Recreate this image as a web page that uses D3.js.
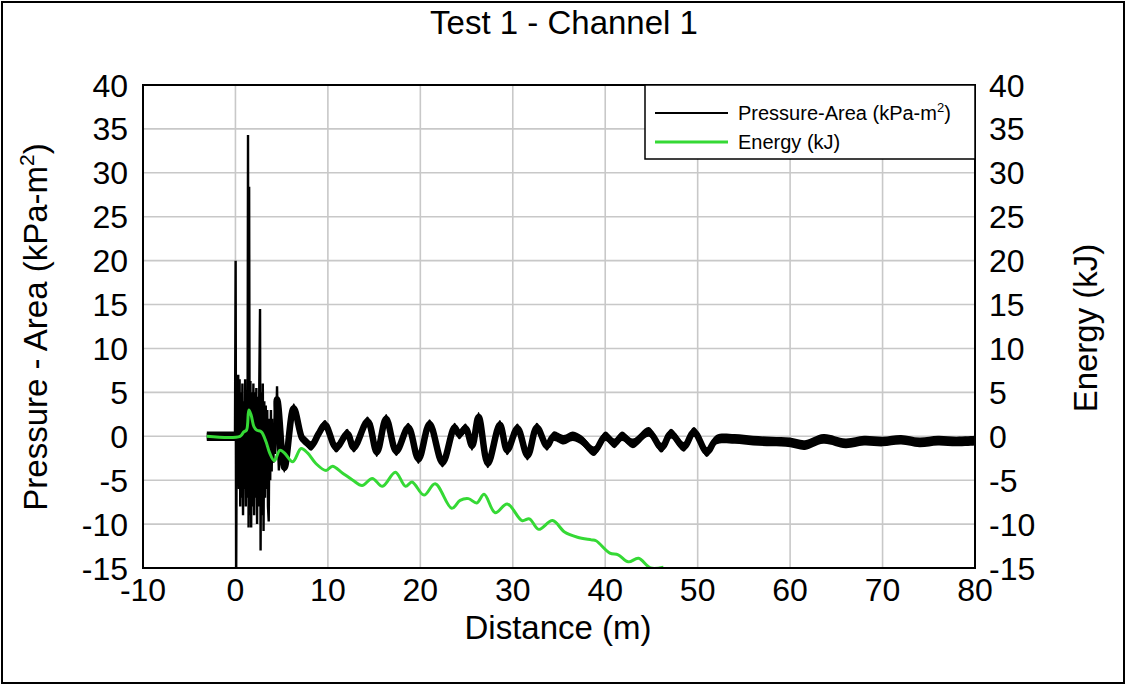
<!DOCTYPE html>
<html>
<head>
<meta charset="utf-8">
<script src="https://cdn.jsdelivr.net/npm/d3@7"></script>
<style>
  body { margin: 0; background: #fff; }
  svg text { font-family: "Liberation Sans", Arial, sans-serif; fill: #000; }
</style>
</head>
<body>
<svg id="chart" width="1126" height="685"></svg>
<script>
// x ticks / y ticks
var xTicks = [-10, 0, 10, 20, 30, 40, 50, 60, 70, 80];
var yTicks = [-15, -10, -5, 0, 5, 10, 15, 20, 25, 30, 35, 40];

// pressure-area, slow part (centre of the noisy band)
var bandDist = [-3.1, 0.0, 4.0, 4.5, 5.3, 6.3, 7.2, 7.6, 8.2, 9.0, 9.7, 10.9, 12.1, 12.8, 14.3, 15.3, 16.3, 17.4,
  18.7, 19.8, 21.0, 22.4, 23.7, 24.2, 24.9, 25.6, 26.3, 27.3, 28.6, 29.4, 30.5, 31.6, 32.6, 33.7, 34.4, 35.5,
  36.5, 37.5, 38.8, 40.0, 41.0, 41.8, 43.0, 44.7, 46.1, 47.1, 48.5, 49.6, 51.0, 52.0, 54.0, 56.0, 58.0, 60.0,
  61.6, 63.6, 66.0, 68.0, 70.0, 72.0, 74.0, 76.0, 78.0, 80.0];
var bandVal = [0.0, 0.0, 0.0, 4.2, -3.6, 3.2, -0.2, -0.6, -1.1, 0.3, 1.3, -1.3, 0.3, -1.3, 1.7, -1.8, 2.0, -1.7,
  1.0, -2.6, 1.4, -3.0, 1.0, 0.2, 0.9, -1.1, 2.2, -3.1, 1.3, -1.6, 0.9, -2.2, 1.0, -1.1, 0.0, -0.4,
  0.0, -0.5, -1.7, 0.0, -0.8, 0.0, -0.8, 0.5, -1.3, 0.3, -1.2, 0.5, -1.8, -0.4, -0.3, -0.5, -0.6, -0.7,
  -1.0, -0.3, -0.8, -0.5, -0.6, -0.4, -0.7, -0.5, -0.6, -0.5];

// pressure-area, impact spikes
var spikeDist = [-0.05, 0.02, 0.08, 0.15, 0.22, 0.30, 0.38, 0.45, 0.52, 0.60, 0.68, 0.75, 0.82, 0.90, 0.98, 1.05,
  1.12, 1.20, 1.30, 1.36, 1.42, 1.48, 1.55, 1.62, 1.70, 1.78, 1.86, 1.94, 2.02, 2.10, 2.18, 2.26, 2.34, 2.42,
  2.50, 2.58, 2.66, 2.72, 2.80, 2.88, 2.96, 3.04, 3.12, 3.20, 3.28, 3.36, 3.44, 3.52, 3.60, 3.68, 3.76, 3.84,
  3.92, 4.00, 4.10, 4.20, 4.30, 4.40, 4.50, 4.60, 4.70, 4.80];
var spikeVal = [0, 20.0, -16, 4, -5, 7.0, -6, 6.5, -8, 5, -7, 6, -9, 4, -6, 6.5,
  -8, 5, -7, 34.3, -10.4, 28.4, -9, 6.3, -10.4, 5, -8, 6, -9, 5, -7, 5.5, -10, 4.5,
  -8, 6, 14.5, -13, 5, -9, 6, -10.8, 4, -7, 3.5, -6, 3, -8, -9.7, 2, -5, 3,
  -4, 2, -3, 1.5, -2, 1, 5.7, -1, -3.9, 0];

// energy
var energyDist = [-3.1, 0.5, 0.9, 1.2, 1.45, 1.7, 2.0, 2.3, 2.8, 3.3, 3.7, 4.2, 4.8, 5.3, 6.2, 7.1, 7.8, 8.7,
  9.8, 10.5, 11.6, 12.7, 13.7, 14.8, 15.9, 17.3, 18.4, 19.1, 20.4, 21.6, 23.4, 24.3, 25.2, 26.1, 26.9, 28.1,
  29.4, 31.0, 31.8, 32.8, 34.3, 35.6, 37.0, 38.5, 39.0, 40.5, 41.4, 42.5, 43.6, 44.9, 46.3];
var energyVal = [0, 0, 0.5, 0.7, 3.0, 2.4, 1.1, 0.7, 0.5, -0.6, -1.9, -2.8, -1.6, -1.9, -2.9, -1.4, -1.9, -3.1,
  -3.9, -3.4, -4.2, -5.0, -5.6, -4.8, -5.7, -4.1, -5.7, -5.2, -6.7, -5.4, -8.2, -7.3, -7.1, -7.6, -6.6, -8.7,
  -7.7, -9.6, -9.4, -10.6, -9.6, -10.9, -11.5, -11.8, -11.9, -13.3, -13.5, -14.3, -13.9, -15.0, -14.9];

var svg = d3.select("#chart");
var pLeft = 143, pRight = 975, pTop = 85, pBottom = 568;
var green = "#35d935";

var x = d3.scaleLinear().domain([-10, 80]).range([pLeft, pRight]);
var y = d3.scaleLinear().domain([-15, 40]).range([pBottom, pTop]);

// outer frame
svg.append("rect").attr("x", 2).attr("y", 2).attr("width", 1122).attr("height", 681)
  .attr("fill", "#fff").attr("stroke", "#000").attr("stroke-width", 2);

// grid
var grid = svg.append("g").attr("stroke", "#c8c8c8").attr("stroke-width", 1.6);
xTicks.forEach(function(t) {
  grid.append("line").attr("x1", x(t)).attr("x2", x(t)).attr("y1", pTop).attr("y2", pBottom);
});
yTicks.forEach(function(t) {
  grid.append("line").attr("x1", pLeft).attr("x2", pRight).attr("y1", y(t)).attr("y2", y(t));
});

svg.append("defs").append("clipPath").attr("id", "plotclip")
  .append("rect").attr("x", pLeft).attr("y", pTop).attr("width", pRight - pLeft).attr("height", pBottom - pTop);

var plot = svg.append("g").attr("clip-path", "url(#plotclip)");

// noisy band: vertical spread plus a thick smoothed centre line
var halfBand = 0.55;
var band = d3.area()
  .x(function(d, i) { return x(bandDist[i]); })
  .y0(function(d) { return y(d - halfBand); })
  .y1(function(d) { return y(d + halfBand); })
  .curve(d3.curveCatmullRom);
plot.append("path").datum(bandVal).attr("d", band).attr("fill", "#000");

var bandLine = d3.line()
  .x(function(d, i) { return x(bandDist[i]); })
  .y(function(d) { return y(d); })
  .curve(d3.curveCatmullRom);
plot.append("path").datum(bandVal).attr("d", bandLine)
  .attr("fill", "none").attr("stroke", "#000").attr("stroke-width", 6.5)
  .attr("stroke-linejoin", "round");

var spikeLine = d3.line()
  .x(function(d, i) { return x(spikeDist[i]); })
  .y(function(d) { return y(d); });
plot.append("path").datum(spikeVal).attr("d", spikeLine)
  .attr("fill", "none").attr("stroke", "#000").attr("stroke-width", 2.4);

var energyLine = d3.line()
  .x(function(d, i) { return x(energyDist[i]); })
  .y(function(d) { return y(d); })
  .curve(d3.curveCatmullRom);
plot.append("path").datum(energyVal).attr("d", energyLine)
  .attr("fill", "none").attr("stroke", green).attr("stroke-width", 3)
  .attr("stroke-linejoin", "round");

// plot border
svg.append("rect").attr("x", pLeft).attr("y", pTop).attr("width", pRight - pLeft).attr("height", pBottom - pTop)
  .attr("fill", "none").attr("stroke", "#000").attr("stroke-width", 2);

// axes labels
var tickFont = 32;
svg.append("g").selectAll("text").data(yTicks).join("text")
  .attr("x", 128).attr("y", function(d) { return y(d); }).attr("dy", "0.36em")
  .attr("text-anchor", "end").attr("font-size", tickFont).text(function(d) { return d; });
svg.append("g").selectAll("text").data(yTicks).join("text")
  .attr("x", 989).attr("y", function(d) { return y(d); }).attr("dy", "0.36em")
  .attr("text-anchor", "start").attr("font-size", tickFont).text(function(d) { return d; });
svg.append("g").selectAll("text").data(xTicks).join("text")
  .attr("x", function(d) { return x(d); }).attr("y", 601)
  .attr("text-anchor", "middle").attr("font-size", tickFont).text(function(d) { return d; });

svg.append("text").attr("x", 564).attr("y", 34).attr("text-anchor", "middle")
  .attr("font-size", 33).text("Test 1 - Channel 1");
svg.append("text").attr("x", 558).attr("y", 639).attr("text-anchor", "middle")
  .attr("font-size", 33).text("Distance (m)");

var yTitle = svg.append("text").attr("transform", "translate(47,327) rotate(-90)")
  .attr("text-anchor", "middle").attr("font-size", 33);
yTitle.append("tspan").text("Pressure - Area (kPa-m");
yTitle.append("tspan").attr("font-size", 21).attr("dy", -13).text("2");
yTitle.append("tspan").attr("dy", 13).text(")");

svg.append("text").attr("transform", "translate(1097,328) rotate(-90)")
  .attr("text-anchor", "middle").attr("font-size", 33).text("Energy (kJ)");

// legend
var lg = svg.append("g");
lg.append("rect").attr("x", 645).attr("y", pTop).attr("width", 330).attr("height", 74)
  .attr("fill", "#fff").attr("stroke", "#000").attr("stroke-width", 1.5);
lg.append("line").attr("x1", 655).attr("x2", 728).attr("y1", 113).attr("y2", 113)
  .attr("stroke", "#000").attr("stroke-width", 2);
lg.append("line").attr("x1", 655).attr("x2", 728).attr("y1", 142).attr("y2", 142)
  .attr("stroke", green).attr("stroke-width", 3);
var l1 = lg.append("text").attr("x", 738).attr("y", 120).attr("font-size", 20);
l1.append("tspan").text("Pressure-Area (kPa-m");
l1.append("tspan").attr("font-size", 13).attr("dy", -8).text("2");
l1.append("tspan").attr("dy", 8).text(")");
lg.append("text").attr("x", 738).attr("y", 149).attr("font-size", 20).text("Energy (kJ)");
</script>
</body>
</html>
